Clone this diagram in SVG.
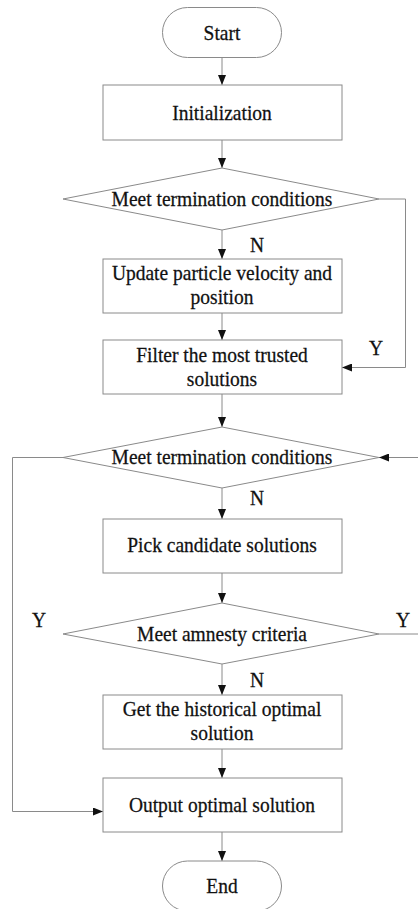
<svg xmlns="http://www.w3.org/2000/svg" width="418" height="909" viewBox="0 0 418 909">
<style>
.s{fill:#fff;stroke:#8a8a8a;stroke-width:1}
.c{fill:none;stroke:#8a8a8a;stroke-width:1}
text{font-family:"Liberation Serif","Times New Roman",serif;font-size:19.5px;fill:#111;stroke:#111;stroke-width:0.25;text-anchor:middle}
</style>
<defs>
<marker id="a" markerUnits="userSpaceOnUse" markerWidth="10" markerHeight="8" refX="10" refY="4" orient="auto">
<path d="M0,0 L10,4 L0,8 z" fill="#111"/>
</marker>
</defs>
<rect width="418" height="909" fill="#fff"/>
<g id="connectors">
<path class="c" d="M222,58 V85" marker-end="url(#a)"/>
<path class="c" d="M222,140 V168" marker-end="url(#a)"/>
<path class="c" d="M222,230 V259" marker-end="url(#a)"/>
<path class="c" d="M222,313 V340" marker-end="url(#a)"/>
<path class="c" d="M379,199 H405.5 V367.5 H342" marker-end="url(#a)"/>
<path class="c" d="M222,394 V427" marker-end="url(#a)"/>
<path class="c" d="M418,457.5 H379" marker-end="url(#a)"/>
<path class="c" d="M63,457.5 H12.5 V811.5 H103" marker-end="url(#a)"/>
<path class="c" d="M222,488 V519" marker-end="url(#a)"/>
<path class="c" d="M222,573 V603" marker-end="url(#a)"/>
<path class="c" d="M379,634 H418"/>
<path class="c" d="M222,664 V695" marker-end="url(#a)"/>
<path class="c" d="M222,749 V778" marker-end="url(#a)"/>
<path class="c" d="M222,832 V861" marker-end="url(#a)"/>
<text transform="matrix(1,0,0,1.1,257,252)">N</text>
<text transform="matrix(1,0,0,1.1,376,355)">Y</text>
<text transform="matrix(1,0,0,1.1,257,505)">N</text>
<text transform="matrix(1,0,0,1.1,39,627)">Y</text>
<text transform="matrix(1,0,0,1.1,403,627)">Y</text>
<text transform="matrix(1,0,0,1.1,257,687)">N</text>
</g>
<g id="start">
<rect class="s" x="162.5" y="7.5" width="119" height="50" rx="25"/>
<text transform="matrix(1,0,0,1.1,222,39.5)">Start</text>
</g>
<g id="init">
<rect class="s" x="103" y="85" width="239" height="55"/>
<text transform="matrix(1,0,0,1.1,222,119.5)">Initialization</text>
</g>
<g id="cond1">
<polygon class="s" points="222,168 379,199 222,230 63,199"/>
<text transform="matrix(1,0,0,1.1,222,205.5)">Meet termination conditions</text>
</g>
<g id="update">
<rect class="s" x="103" y="259" width="239" height="54"/>
<text transform="matrix(1,0,0,1.1,222,279.5)">Update particle velocity and</text>
<text transform="matrix(1,0,0,1.1,222,303.5)">position</text>
</g>
<g id="filter">
<rect class="s" x="103" y="340" width="239" height="54"/>
<text transform="matrix(1,0,0,1.1,222,361.5)">Filter the most trusted</text>
<text transform="matrix(1,0,0,1.1,222,386)">solutions</text>
</g>
<g id="cond2">
<polygon class="s" points="222,427 379,457.5 222,488 63,457.5"/>
<text transform="matrix(1,0,0,1.1,222,463.5)">Meet termination conditions</text>
</g>
<g id="pick">
<rect class="s" x="103" y="519" width="239" height="54"/>
<text transform="matrix(1,0,0,1.1,222,551.5)">Pick candidate solutions</text>
</g>
<g id="amnesty">
<polygon class="s" points="222,603 379,634 222,664 63,634"/>
<text transform="matrix(1,0,0,1.1,222,640.5)">Meet amnesty criteria</text>
</g>
<g id="historical">
<rect class="s" x="103" y="695" width="239" height="54"/>
<text transform="matrix(1,0,0,1.1,222,715.5)">Get the historical optimal</text>
<text transform="matrix(1,0,0,1.1,222,739.5)">solution</text>
</g>
<g id="output">
<rect class="s" x="103" y="778" width="239" height="54"/>
<text transform="matrix(1,0,0,1.1,222,811.5)">Output optimal solution</text>
</g>
<g id="end">
<rect class="s" x="162.5" y="861" width="119" height="50" rx="25"/>
<text transform="matrix(1,0,0,1.1,222,892.5)">End</text>
</g>
</svg>
